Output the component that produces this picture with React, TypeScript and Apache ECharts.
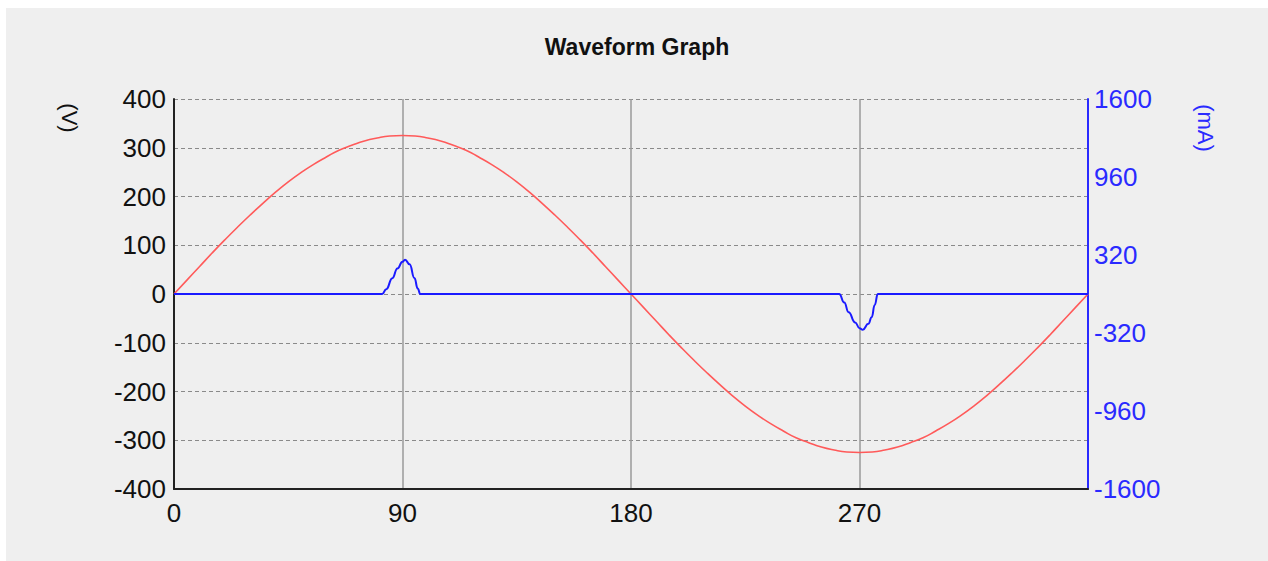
import React, { useEffect, useRef } from "react";
import * as echarts from "echarts";

const titleText = "Waveform Graph";
const leftAxisName = "(V)";
const rightAxisName = "(mA)";

// Voltage (V) read at every 5 degrees, 0..360
const voltageAngles = [
  0, 5, 10, 15, 20, 25, 30, 35, 40, 45, 50, 55, 60, 65, 70, 75, 80, 85, 90,
  95, 100, 105, 110, 115, 120, 125, 130, 135, 140, 145, 150, 155, 160, 165, 170, 175, 180,
  185, 190, 195, 200, 205, 210, 215, 220, 225, 230, 235, 240, 245, 250, 255, 260, 265, 270,
  275, 280, 285, 290, 295, 300, 305, 310, 315, 320, 325, 330, 335, 340, 345, 350, 355, 360,
];
const voltageValues = [
  0, 28, 56, 84, 111, 137, 162, 186, 209, 230, 249, 266, 281, 295, 305, 314, 320, 324, 325,
  324, 320, 314, 305, 295, 281, 266, 249, 230, 209, 186, 162, 137, 111, 84, 56, 28, 0,
  -28, -56, -84, -111, -137, -162, -186, -209, -230, -249, -266, -281, -295, -305, -314, -320, -324, -325,
  -324, -320, -314, -305, -295, -281, -266, -249, -230, -209, -186, -162, -137, -111, -84, -56, -28, 0,
];

// Current (mA) pulses near 90 and 270 degrees
const currentAngles = [
  0, 82, 83.6, 86, 88, 90, 91, 92.8, 94.7, 96, 97, 262, 264, 265.7, 268.3, 270, 271.3, 273.5, 274.8, 276, 277.2, 360,
];
const currentValues = [
  0, 0, 40, 130, 210, 265, 282, 244, 131, 45, 0, 0, -70, -150, -233, -280, -293, -245, -190, -90, 0, 0,
];

const xTicks = [0, 90, 180, 270];
const leftTicks = [-400, -300, -200, -100, 0, 100, 200, 300, 400];
const rightTicks = [-1600, -960, -320, 320, 960, 1600];

export default function App() {
  const ref = useRef<HTMLDivElement>(null);
  useEffect(() => {
    if (!ref.current) return;
    const chart = echarts.init(ref.current, null, { renderer: "svg" });
    const font = "'Liberation Sans', Arial, sans-serif";
    chart.setOption({
      animation: false,
      backgroundColor: "#efefef",
      textStyle: { fontFamily: font },
      title: {
        text: titleText,
        left: "center",
        top: 22,
        textStyle: { fontSize: 23, fontWeight: "bold", color: "#111", fontFamily: font },
      },
      grid: { left: 168, top: 91, width: 914, height: 390 },
      xAxis: {
        type: "value",
        min: 0,
        max: 360,
        interval: 90,
        axisLine: { show: true, onZero: false, lineStyle: { color: "#222", width: 2 } },
        axisTick: { show: false },
        axisLabel: {
          color: "#111",
          fontSize: 26,
          margin: 11,
          formatter: (v: number) => (xTicks.includes(v) ? String(v) : ""),
        },
        splitLine: { show: true, showMinLine: false, showMaxLine: false, lineStyle: { color: "#9a9a9a", width: 1.5, type: "solid" } },
      },
      yAxis: [
        {
          type: "value",
          min: leftTicks[0],
          max: leftTicks[leftTicks.length - 1],
          interval: 100,
          position: "left",
          axisLine: { show: true, onZero: false, lineStyle: { color: "#222", width: 2 } },
          axisTick: { show: false },
          axisLabel: { color: "#111", fontSize: 26, margin: 8, formatter: (v: number) => String(v) },
          splitLine: { show: true, lineStyle: { color: "#8a8a8a", width: 1, type: [4, 3] } },
        },
        {
          type: "value",
          min: rightTicks[0],
          max: rightTicks[rightTicks.length - 1],
          interval: 640,
          position: "right",
          axisLine: { show: true, onZero: false, lineStyle: { color: "#2a2aff", width: 2 } },
          axisTick: { show: false },
          axisLabel: { color: "#2a2aff", fontSize: 26, margin: 6, formatter: (v: number) => String(v) },
          splitLine: { show: false },
        },
      ],
      graphic: [
        {
          type: "text",
          x: 63,
          y: 110,
          rotation: -Math.PI / 2,
          style: { text: leftAxisName, fill: "#111", font: `22px ${font}`, align: "center", verticalAlign: "middle" },
        },
        {
          type: "text",
          x: 1199,
          y: 120,
          rotation: -Math.PI / 2,
          style: { text: rightAxisName, fill: "#2a2aff", font: `22px ${font}`, align: "center", verticalAlign: "middle" },
        },
      ],
      series: [
        {
          type: "line",
          yAxisIndex: 0,
          data: voltageAngles.map((a, i) => [a, voltageValues[i]]),
          showSymbol: false,
          smooth: 0.5,
          lineStyle: { color: "#ff5a5a", width: 1.6 },
          z: 3,
        },
        {
          type: "line",
          yAxisIndex: 1,
          data: currentAngles.map((a, i) => [a, currentValues[i]]),
          showSymbol: false,
          smooth: 0.5,
          smoothMonotone: "x",
          lineStyle: { color: "#1a1aff", width: 2 },
          z: 4,
        },
      ],
    });
    return () => chart.dispose();
  }, []);
  return (
    <div
      ref={ref}
      style={{ position: "absolute", left: 6, top: 8, width: 1262, height: 553 }}
    />
  );
}
